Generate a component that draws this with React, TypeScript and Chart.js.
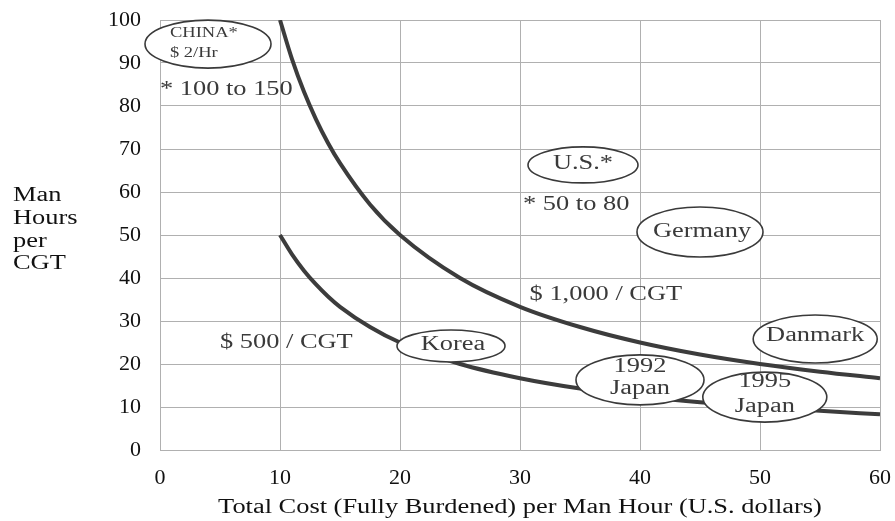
import React, { useEffect, useRef } from "react";
import { Chart, registerables } from "chart.js";
Chart.register(...registerables);

// Curve sample points (x = total cost per man hour, y = man hours per CGT)
const xValues = [10, 11, 12, 13, 14, 15, 17.5, 20, 25, 30, 35, 40, 45, 50, 55, 60];
const cost1000 = [100, 90.9, 83.3, 76.9, 71.4, 66.7, 57.1, 50, 40, 33.3, 28.6, 25, 22.2, 20, 18.2, 16.7];
const cost500 = [50, 45.5, 41.7, 38.5, 35.7, 33.3, 28.6, 25, 20, 16.7, 14.3, 12.5, 11.1, 10, 9.1, 8.3];

// Country bubbles (labelled ellipses)
const bubbleNames = ["CHINA*\n$ 2/Hr", "U.S.*", "Germany", "Korea", "Danmark", "1992\nJapan", "1995\nJapan"];
const bubbleX = [4.0, 35.25, 45.0, 24.25, 54.6, 40.0, 50.4];
const bubbleY = [94.4, 66.3, 50.7, 24.2, 25.8, 16.3, 12.3];

// Free text notes
const noteTexts = ["* 100 to 150", "* 50 to 80", "$ 1,000 / CGT", "$ 500 / CGT"];
const noteX = [0, 30.25, 30.8, 5.0];
const noteY = [83.7, 57, 36.0, 25.0];

const xTitle = "Total Cost (Fully Burdened) per Man Hour (U.S. dollars)";
const yTitleLines = ["Man", "Hours", "per", "CGT"];

const SERIF = "'Liberation Serif', 'Times New Roman', serif";
const STRETCH = 1.32;

const bubbleStyle = [
  { rx: 63, ry: 24, size: 14, align: "left" as CanvasTextAlign, dx: -38, dy: -1, lh: 20 },
  { rx: 55, ry: 18, size: 20, align: "center" as CanvasTextAlign, dx: 0, dy: -1, lh: 22 },
  { rx: 63, ry: 25, size: 20, align: "center" as CanvasTextAlign, dx: 2, dy: 0, lh: 22 },
  { rx: 54, ry: 16, size: 20, align: "center" as CanvasTextAlign, dx: 2, dy: -1, lh: 22 },
  { rx: 62, ry: 24, size: 20, align: "center" as CanvasTextAlign, dx: 0, dy: -3, lh: 22 },
  { rx: 64, ry: 25, size: 20, align: "center" as CanvasTextAlign, dx: 0, dy: -2, lh: 22 },
  { rx: 62, ry: 25, size: 20, align: "center" as CanvasTextAlign, dx: 0, dy: -3, lh: 25 },
];

function drawText(
  ctx: CanvasRenderingContext2D,
  text: string,
  x: number,
  y: number,
  size: number,
  align: CanvasTextAlign,
  color: string,
  sx: number = STRETCH
) {
  ctx.save();
  ctx.translate(x, y);
  ctx.scale(sx, 1);
  ctx.font = `${size}px ${SERIF}`;
  ctx.fillStyle = color;
  ctx.textAlign = align;
  ctx.textBaseline = "middle";
  ctx.fillText(text, 0, 0);
  ctx.restore();
}

const annotPlugin = {
  id: "annot",
  afterDatasetsDraw(chart: any) {
    const ctx = chart.ctx as CanvasRenderingContext2D;
    const xs = chart.scales.x;
    const ys = chart.scales.y;
    ctx.save();
    bubbleNames.forEach((name, i) => {
      const st = bubbleStyle[i];
      const cx = xs.getPixelForValue(bubbleX[i]);
      const cy = ys.getPixelForValue(bubbleY[i]);
      ctx.beginPath();
      ctx.ellipse(cx, cy, st.rx, st.ry, 0, 0, Math.PI * 2);
      ctx.fillStyle = "#ffffff";
      ctx.fill();
      ctx.lineWidth = 1.6;
      ctx.strokeStyle = "#3a3a3a";
      ctx.stroke();
      const lines = name.split("\n");
      const startY = cy + st.dy - ((lines.length - 1) * st.lh) / 2;
      lines.forEach((ln, k) => {
        drawText(ctx, ln, cx + st.dx, startY + k * st.lh, st.size, st.align, "#3a3a3a");
      });
    });
    noteTexts.forEach((t, i) => {
      drawText(ctx, t, xs.getPixelForValue(noteX[i]), ys.getPixelForValue(noteY[i]), 20, "left", "#3a3a3a");
    });
    // axis titles
    yTitleLines.forEach((t, k) => {
      drawText(ctx, t, 13, 196 + k * 22.7, 20, "left", "#111");
    });
    drawText(ctx, xTitle, (xs.left + xs.right) / 2, 508, 20, "center", "#111");
    ctx.restore();
  },
};

export default function App() {
  const ref = useRef<HTMLCanvasElement>(null);
  useEffect(() => {
    const tickFont = { family: SERIF, size: 22 };
    const chart = new Chart(ref.current!, {
      type: "line",
      data: {
        datasets: [
          {
            label: "$ 1,000 / CGT",
            data: xValues.map((x, i) => ({ x, y: cost1000[i] })),
            borderColor: "#3c3c3c",
            borderWidth: 4,
            pointRadius: 0,
            cubicInterpolationMode: "monotone",
            fill: false,
          },
          {
            label: "$ 500 / CGT",
            data: xValues.map((x, i) => ({ x, y: cost500[i] })),
            borderColor: "#3c3c3c",
            borderWidth: 4,
            pointRadius: 0,
            cubicInterpolationMode: "monotone",
            fill: false,
          },
        ],
      },
      options: {
        animation: false,
        responsive: false,
        maintainAspectRatio: false,
        layout: { padding: { top: 20, right: 15, left: 0, bottom: 0 } },
        plugins: { legend: { display: false }, tooltip: { enabled: false } },
        scales: {
          x: {
            type: "linear",
            min: 0,
            max: 60,
            ticks: { stepSize: 10, padding: 15, font: tickFont, color: "#111", maxRotation: 0 },
            grid: { color: "#b0b0b0", drawTicks: false, lineWidth: 1 },
            border: { display: true, color: "#b0b0b0" },
            afterFit: (s: any) => {
              s.height = 71;
              s.paddingLeft = 0;
              s.paddingRight = 0;
            },
          },
          y: {
            type: "linear",
            min: 0,
            max: 100,
            ticks: { stepSize: 10, padding: 19, font: tickFont, color: "#111" },
            grid: { color: "#b0b0b0", drawTicks: false, lineWidth: 1 },
            border: { display: true, color: "#b0b0b0" },
            afterFit: (s: any) => {
              s.width = 160;
              s.paddingTop = 0;
              s.paddingBottom = 0;
            },
          },
        },
      } as any,
      plugins: [annotPlugin],
    });
    return () => chart.destroy();
  }, []);
  return (
    <div style={{ position: "absolute", left: 0, top: 0, width: 895, height: 521, background: "#fff" }}>
      <canvas ref={ref} width={895} height={521} style={{ display: "block" }} />
    </div>
  );
}
